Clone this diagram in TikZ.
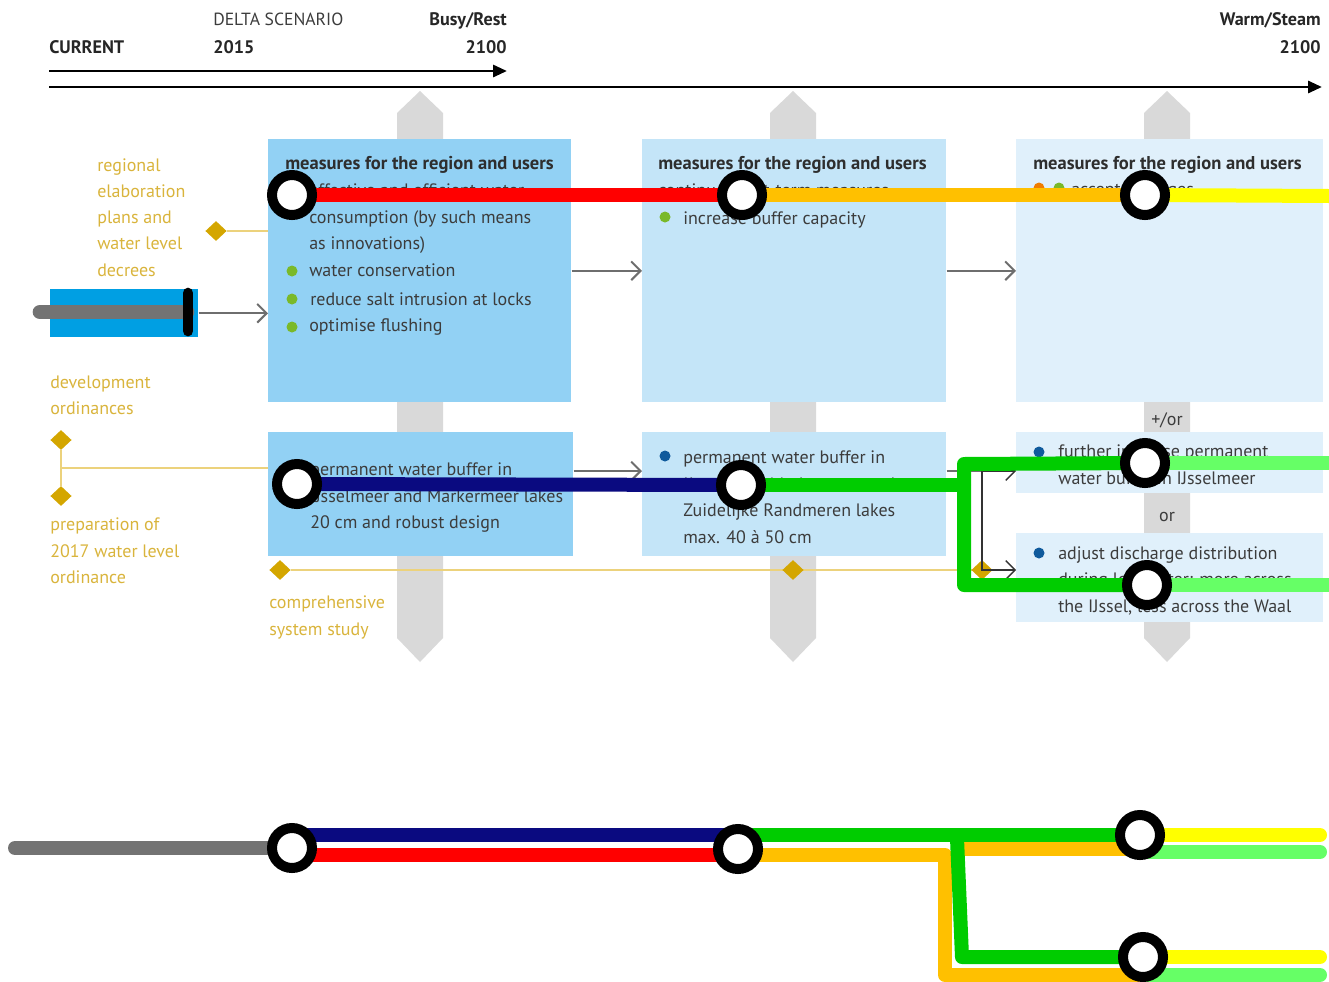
\documentclass[tikz,border=0pt]{standalone}
\usepackage{fontspec}
\setmainfont{PT Sans}
\usetikzlibrary{arrows.meta,shapes.geometric}
\definecolor{txt}{HTML}{3C3C3C}
\definecolor{txthd}{HTML}{2E2E2E}
\definecolor{gold}{HTML}{D9B43C}
\definecolor{goldd}{HTML}{D4A600}
\definecolor{goldl}{HTML}{ECD27C}
\definecolor{band}{HTML}{D9D9D9}
\definecolor{boxa}{HTML}{92D1F4}
\definecolor{boxb}{HTML}{C4E5F8}
\definecolor{boxc}{HTML}{E0F0FB}
\definecolor{cur}{HTML}{009FE3}
\definecolor{arr}{HTML}{6E6E6E}
\definecolor{mred}{HTML}{FF0000}
\definecolor{morange}{HTML}{FFC000}
\definecolor{myellow}{HTML}{FFFF00}
\definecolor{mnavy}{HTML}{0A0A80}
\definecolor{mgreen}{HTML}{00CC00}
\definecolor{mlgreen}{HTML}{66FF66}
\definecolor{mgrey}{HTML}{737373}
\definecolor{bgreen}{HTML}{7AB929}
\definecolor{bblue}{HTML}{0F5A9C}
\definecolor{borange}{HTML}{F07D00}
\newcommand{\Tl}[4][]{\node[tx,#1] (#2) at (#3) {#4};}
\begin{document}
\begin{tikzpicture}[x=0.75pt,y=-0.75pt,
  tx/.style={anchor=base west, inner sep=0, text=txt, font=\fontsize{13.5}{16}\selectfont},
  hd/.style={font=\fontsize{13.9}{16}\selectfont\bfseries, text=txthd},
  gt/.style={text=gold},
  toplab/.style={anchor=base west, inner sep=0, text=black!85, font=\fontsize{13.6}{16}\selectfont\bfseries},
  bx/.style={anchor=north west, inner sep=0, draw=none},
  dot/.style={circle, inner sep=0, minimum size=8.25pt},
  dia/.style={diamond, aspect=1.1, fill=goldd, inner sep=0, minimum width=16pt, minimum height=15pt},
  garr/.style={draw=arr, line width=1.5pt, -{Straight Barb[length=7pt,width=14pt]}},
  darr/.style={draw=black!80, line width=1pt, -{Straight Barb[length=7pt,width=14pt]}},
  tline/.style={draw=black, line width=2.2pt, -{Triangle[length=10.5pt,width=9pt]}},
  gl/.style={draw=goldl, line width=1.8pt},
  ml/.style={line width=10.5pt},
  ring/.style={circle, draw=black, fill=white, line width=7.5pt, minimum size=30pt, inner sep=0}
]
\useasboundingbox (0,0) rectangle (1329,982);

% ---- timeline labels
\node[toplab, font=\fontsize{13.2}{16}\selectfont, text=txt] (ds) at (213,25) {DELTA SCENARIO};
\node[toplab] (cur) at (49,53) {CURRENT};
\node[toplab] (y15) at (213,53) {2015};
\node[toplab, anchor=base east] (brs) at (507,25) {Busy/Rest};
\node[toplab, anchor=base east] (y21) at (507,53) {2100};
\node[toplab, anchor=base east] (wst) at (1321,25) {Warm/Steam};
\node[toplab, anchor=base east] (y22) at (1321,53) {2100};
\coordinate (t1s) at (49,71); \coordinate (t1e) at (507,71);
\coordinate (t2s) at (49,87); \coordinate (t2e) at (1322,87);
\draw[tline] (t1s) -- (t1e);
\draw[tline] (t2s) -- (t2e);

% ---- grey bands
\foreach \c in {420,793,1167}{
  \fill[band] (\c-23,113) -- (\c,91) -- (\c+23,113) -- (\c+23,638) -- (\c,662) -- (\c-23,638) -- cycle;
}

% ---- boxes
\node[bx, fill=boxa, minimum width=303*0.75pt, minimum height=263*0.75pt] (A) at (268,139) {};
\node[bx, fill=boxb, minimum width=304*0.75pt, minimum height=263*0.75pt] (B) at (642,139) {};
\node[bx, fill=boxc, minimum width=307*0.75pt, minimum height=263*0.75pt] (C) at (1016,139) {};
\node[bx, fill=boxa, minimum width=305*0.75pt, minimum height=124*0.75pt] (D) at (268,432) {};
\node[bx, fill=boxb, minimum width=304*0.75pt, minimum height=124*0.75pt] (E) at (642,432) {};
\node[bx, fill=boxc, minimum width=307*0.75pt, minimum height=61*0.75pt] (F) at (1016,432) {};
\node[bx, fill=boxc, minimum width=307*0.75pt, minimum height=89*0.75pt] (G) at (1016,533) {};
\node[bx, fill=cur, minimum width=148*0.75pt, minimum height=48*0.75pt] (L) at (50,289) {};

% ---- gold milestones
\node[dia] (d1) at (216,231) {};
\node[dia] (d2) at (61,440) {};
\node[dia] (d3) at (61,496) {};
\node[dia] (d4) at (280,570) {};
\coordinate (dj) at (61,468);
\coordinate (dend) at (975,570);
\draw[gl] (d1) -- (d1 -| A.west);
\draw[gl] (d2) -- (d3);
\draw[gl] (dj) -- (dj -| D.west);
\draw[gl] (d4) -- (dend);
\node[dia] (d5) at (793,570) {};
\node[dia] (d6) at (982,570) {};

% ---- connectors
\coordinate (yDE) at (0,471);
\coordinate (br) at (982,471);
\coordinate (yG) at (0,570);
\draw[garr] (L.east) -- (L.east -| A.west);
\draw[garr] (A.east) -- (B.west);
\draw[garr] (B.east) -- (C.west);
\draw[garr] (D.east |- yDE) -- (E.west |- yDE);
\draw[draw=arr, line width=1.5pt] (E.east |- yDE) -- (br);
\draw[darr] (br) -- (F.west |- br);
\draw[darr] (br) |- (G.west |- yG);

% ---- gold texts
\Tl[gt]{r1}{97,171}{regional}
\Tl[gt]{r2}{97,197}{elaboration}
\Tl[gt]{r3}{97,223}{plans and}
\Tl[gt]{r4}{97,249}{water level}
\Tl[gt]{r5}{97,276}{decrees}
\Tl[gt]{v1}{50,388}{development}
\Tl[gt]{v2}{50,414}{ordinances}
\Tl[gt]{p1}{50,530}{preparation of}
\Tl[gt]{p2}{50,557}{2017 water level}
\Tl[gt]{p3}{50,583}{ordinance}
\Tl[gt]{s1}{269,608}{comprehensive}
\Tl[gt]{s2}{269,635}{system study}

% ---- box A
\Tl[hd]{a0}{285,169}{measures for the region and users}
\Tl{a1}{309,196}{effective and efficient water}
\Tl{a2}{309,223}{consumption (by such means}
\Tl{a3}{309,249}{as innovations)}
\Tl{a4}{309,276}{water conservation}
\Tl{a5}{310,305}{reduce salt intrusion at locks}
\Tl{a6}{309,331}{optimise flushing}
\node[dot, fill=bgreen] (ab1) at (292,189) {};
\node[dot, fill=bgreen] (ab2) at (292,271) {};
\node[dot, fill=bgreen] (ab3) at (292,299) {};
\node[dot, fill=bgreen] (ab4) at (292,327) {};
% ---- box B
\Tl[hd]{b0}{658,169}{measures for the region and users}
\Tl{b1}{658,196}{continue short-term measures}
\Tl{b2}{683,224}{increase buffer capacity}
\node[dot, fill=bgreen] (bb1) at (665,217) {};
% ---- box C
\Tl[hd]{c0}{1033,169}{measures for the region and users}
\node[dot, fill=borange] (cb1) at (1039,188) {};
\node[dot, fill=bgreen] (cb2) at (1059,188) {};
\Tl{c1}{1071,195}{accept damages}
% ---- box D
\node[dot, fill=bblue] (db1) at (292,468) {};
\Tl{d1t}{310,475}{permanent water buffer in}
\Tl{d2t}{310,502}{IJsselmeer and Markermeer lakes}
\Tl{d3t}{310,528}{20 cm and robust design}
% ---- box E
\node[dot, fill=bblue] (eb1) at (665,456) {};
\Tl{e1}{683,463}{permanent water buffer in}
\Tl{e2}{683,490}{IJsselmeer, Markermeer and}
\Tl{e3}{683,516}{Zuidelijke Randmeren lakes}
\Tl{e4}{683,543}{max. 40 à 50 cm}
% ---- box F, G
\node[dot, fill=bblue] (fb1) at (1039,452) {};
\Tl{f1}{1058,457}{further increase permanent}
\Tl{f2}{1058,484}{water buffer in IJsselmeer}
\node[dot, fill=bblue] (gb1) at (1039,553) {};
\Tl{g1}{1058,559}{adjust discharge distribution}
\Tl{g2}{1058,585}{during low water: more across}
\Tl{g3}{1058,612}{the IJssel, less across the Waal}
\Tl[anchor=base]{po}{1167,425}{+/or}
\Tl[anchor=base]{or}{1167,521}{or}

% ---- metro overlay, upper part
\coordinate (u1) at (292,195);
\coordinate (u2) at (742,195);
\coordinate (u3) at (1145,195);
\coordinate (u3e) at (1329,196);
\coordinate (u4) at (297,484);
\coordinate (u5) at (741,485);
\coordinate (u6) at (1145,463);
\coordinate (u7) at (1147,585);
\coordinate (u6e) at (1329,463);
\coordinate (u7e) at (1329,585);
\coordinate (ubt) at (964,464);
\coordinate (ubb) at (964,585);
\coordinate (ubm) at (964,485);
\coordinate (gs) at (40,312);
\coordinate (ge) at (187,312);
\coordinate (kb1) at (188,293);
\coordinate (kb2) at (188,331);
\draw[ml, mgrey, line width=11pt, line cap=round] (gs) -- (ge);
\draw[black, line width=8pt, line cap=round] (kb1) -- (kb2);
\draw[ml, mred] (u1) -- (u2);
\draw[ml, morange] (u2) -- (u3);
\draw[ml, myellow] (u3) -- (u3e);
\draw[ml, mnavy] (u4) -- (u5);
\draw[ml, mlgreen] (u6) -- (u6e);
\draw[ml, mlgreen] (u7) -- (u7e);
\draw[ml, mgreen, line join=round, line cap=round] (u5) -- (ubm);
\draw[ml, mgreen, line join=round, line cap=round] (u6) -- (ubt) -- (ubb) -- (u7);
\foreach \p/\n in {u1/R1,u2/R2,u3/R3,u4/R4,u5/R5,u6/R6,u7/R7}{
  \node[ring] (\n) at (\p) {};
}

% ---- metro overlay, lower part
\coordinate (w0) at (15,848);
\coordinate (w1) at (292,848);
\coordinate (w2) at (738,849);
\coordinate (w3) at (1140,835);
\coordinate (w4) at (1143,957);
\coordinate (n1) at (292,835);
\coordinate (n2) at (738,835);
\coordinate (rr1) at (292,855);
\coordinate (rr2) at (738,855);
\coordinate (oc1) at (945,855);
\coordinate (oc2) at (945,975);
\coordinate (oc3) at (1143,975);
\coordinate (ob1) at (955,849);
\coordinate (ob2) at (1140,849);
\coordinate (gv1) at (957,838);
\coordinate (gv2) at (962,957);
\coordinate (ye1) at (1320,835);
\coordinate (lg1s) at (1140,852);
\coordinate (lg1) at (1320,852);
\coordinate (ye2) at (1320,957);
\coordinate (lg2) at (1320,975);
\draw[ml, mgrey, line cap=round] (w0) -- (w1);
\draw[ml, mnavy] (n1) -- (n2);
\draw[ml, mred] (rr1) -- (rr2);
\draw[ml, morange, line join=round] (rr2) -- (oc1) -- (oc2) -- (oc3);
\draw[ml, morange] (ob1) -- (ob2);
\draw[ml, mgreen] (n2) -- (w3);
\draw[ml, mgreen, line join=round, line cap=round] (gv1) -- (gv2) -- (w4);
\draw[ml, myellow, line cap=round] (w3) -- (ye1);
\draw[ml, mlgreen, line cap=round] (lg1s) -- (lg1);
\draw[ml, myellow, line cap=round] (w4) -- (ye2);
\draw[ml, mlgreen, line cap=round] (oc3) -- (lg2);
\foreach \p/\n in {w1/S1,w2/S2,w3/S3,w4/S4}{
  \node[ring] (\n) at (\p) {};
}
\end{tikzpicture}
\end{document}
